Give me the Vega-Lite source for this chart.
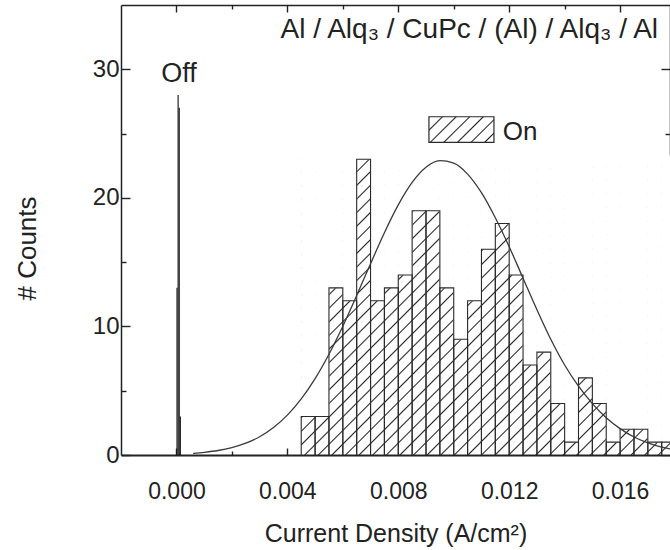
{
  "$schema": "https://vega.github.io/schema/vega-lite/v6.json",
  "width": 549,
  "height": 450,
  "autosize": {"type": "none"},
  "padding": {"left": 121, "top": 5, "right": 0, "bottom": 95},
  "background": "white",
  "config": {
    "view": {"stroke": null},
    "font": "Liberation Sans",
    "axis": {"grid": false, "zindex": 2, "labelFont": "Liberation Sans", "titleFont": "Liberation Sans", "labelColor": "#222", "titleColor": "#222", "titleFontWeight": "normal", "domainColor": "#222", "tickColor": "#222", "tickWidth": 1.4, "domainWidth": 1.5}
  },
  "datasets": {
    "on": [
      {"x0": 0.0045, "x1": 0.005, "count": 3},
      {"x0": 0.005, "x1": 0.0055, "count": 3},
      {"x0": 0.0055, "x1": 0.006, "count": 13},
      {"x0": 0.006, "x1": 0.0065, "count": 12},
      {"x0": 0.0065, "x1": 0.007, "count": 23},
      {"x0": 0.007, "x1": 0.0075, "count": 12},
      {"x0": 0.0075, "x1": 0.008, "count": 13},
      {"x0": 0.008, "x1": 0.0085, "count": 14},
      {"x0": 0.0085, "x1": 0.009, "count": 19},
      {"x0": 0.009, "x1": 0.0095, "count": 19},
      {"x0": 0.0095, "x1": 0.01, "count": 13},
      {"x0": 0.01, "x1": 0.0105, "count": 9},
      {"x0": 0.0105, "x1": 0.011, "count": 12},
      {"x0": 0.011, "x1": 0.0115, "count": 16},
      {"x0": 0.0115, "x1": 0.012, "count": 18},
      {"x0": 0.012, "x1": 0.0125, "count": 14},
      {"x0": 0.0125, "x1": 0.013, "count": 7},
      {"x0": 0.013, "x1": 0.0135, "count": 8},
      {"x0": 0.0135, "x1": 0.014, "count": 4},
      {"x0": 0.014, "x1": 0.0145, "count": 1},
      {"x0": 0.0145, "x1": 0.015, "count": 6},
      {"x0": 0.015, "x1": 0.0155, "count": 4},
      {"x0": 0.0155, "x1": 0.016, "count": 1},
      {"x0": 0.016, "x1": 0.0165, "count": 2},
      {"x0": 0.0165, "x1": 0.017, "count": 2},
      {"x0": 0.017, "x1": 0.0175, "count": 1},
      {"x0": 0.0175, "x1": 0.018, "count": 1}
    ],
    "off": [
      {"x0": 0.0, "x1": 0.00004, "count": 13},
      {"x0": 0.00004, "x1": 0.00008, "count": 28},
      {"x0": 0.00008, "x1": 0.00012, "count": 27},
      {"x0": 0.00012, "x1": 0.00016, "count": 3}
    ],
    "fit": [
      {"x": 0.0006, "y": 0.13}, {"x": 0.001, "y": 0.21}, {"x": 0.0015, "y": 0.35}, {"x": 0.002, "y": 0.58},
      {"x": 0.0025, "y": 0.92}, {"x": 0.003, "y": 1.42}, {"x": 0.0035, "y": 2.14}, {"x": 0.004, "y": 3.1},
      {"x": 0.0045, "y": 4.36}, {"x": 0.005, "y": 5.94}, {"x": 0.0055, "y": 7.84}, {"x": 0.006, "y": 10.02},
      {"x": 0.0065, "y": 12.41}, {"x": 0.007, "y": 14.88}, {"x": 0.0075, "y": 17.29}, {"x": 0.008, "y": 19.45},
      {"x": 0.0085, "y": 21.2}, {"x": 0.009, "y": 22.38}, {"x": 0.0095, "y": 22.89}, {"x": 0.01, "y": 22.7},
      {"x": 0.0105, "y": 21.85}, {"x": 0.011, "y": 20.4}, {"x": 0.0115, "y": 18.45}, {"x": 0.012, "y": 16.2},
      {"x": 0.0125, "y": 13.75}, {"x": 0.013, "y": 11.3}, {"x": 0.0135, "y": 9.0}, {"x": 0.014, "y": 7.0},
      {"x": 0.0145, "y": 5.35}, {"x": 0.015, "y": 4.0}, {"x": 0.0155, "y": 2.9}, {"x": 0.016, "y": 2.05},
      {"x": 0.0165, "y": 1.4}, {"x": 0.017, "y": 0.95}, {"x": 0.0175, "y": 0.62}, {"x": 0.018, "y": 0.4}
    ],
    "one": [{}]
  },
  "resolve": {"axis": {"x": "independent", "y": "independent"}},
  "layer": [
    {
      "data": {"name": "on"},
      "transform": [{"aggregate": [{"op": "min", "field": "x0", "as": "lo"}, {"op": "max", "field": "x1", "as": "hi"}, {"op": "max", "field": "count", "as": "top"}]}],
      "mark": {"type": "rect", "clip": true, "strokeWidth": 0, "fill": {"gradient": "linear", "x1": 0, "y1": 0, "x2": 1.1186, "y2": 0.8837, "stops": [
        {"offset":0,"color":"#222"},{"offset":0.0022,"color":"#fff"},{"offset":0.0178,"color":"#fff"},
        {"offset":0.02,"color":"#222"},{"offset":0.0222,"color":"#fff"},{"offset":0.0378,"color":"#fff"},
        {"offset":0.04,"color":"#222"},{"offset":0.0422,"color":"#fff"},{"offset":0.0578,"color":"#fff"},
        {"offset":0.06,"color":"#222"},{"offset":0.0622,"color":"#fff"},{"offset":0.0778,"color":"#fff"},
        {"offset":0.08,"color":"#222"},{"offset":0.0822,"color":"#fff"},{"offset":0.0978,"color":"#fff"},
        {"offset":0.1,"color":"#222"},{"offset":0.1022,"color":"#fff"},{"offset":0.1178,"color":"#fff"},
        {"offset":0.12,"color":"#222"},{"offset":0.1222,"color":"#fff"},{"offset":0.1378,"color":"#fff"},
        {"offset":0.14,"color":"#222"},{"offset":0.1422,"color":"#fff"},{"offset":0.1578,"color":"#fff"},
        {"offset":0.16,"color":"#222"},{"offset":0.1622,"color":"#fff"},{"offset":0.1778,"color":"#fff"},
        {"offset":0.18,"color":"#222"},{"offset":0.1822,"color":"#fff"},{"offset":0.1978,"color":"#fff"},
        {"offset":0.2,"color":"#222"},{"offset":0.2022,"color":"#fff"},{"offset":0.2178,"color":"#fff"},
        {"offset":0.22,"color":"#222"},{"offset":0.2222,"color":"#fff"},{"offset":0.2378,"color":"#fff"},
        {"offset":0.24,"color":"#222"},{"offset":0.2422,"color":"#fff"},{"offset":0.2578,"color":"#fff"},
        {"offset":0.26,"color":"#222"},{"offset":0.2622,"color":"#fff"},{"offset":0.2778,"color":"#fff"},
        {"offset":0.28,"color":"#222"},{"offset":0.2822,"color":"#fff"},{"offset":0.2978,"color":"#fff"},
        {"offset":0.3,"color":"#222"},{"offset":0.3022,"color":"#fff"},{"offset":0.3178,"color":"#fff"},
        {"offset":0.32,"color":"#222"},{"offset":0.3222,"color":"#fff"},{"offset":0.3378,"color":"#fff"},
        {"offset":0.34,"color":"#222"},{"offset":0.3422,"color":"#fff"},{"offset":0.3578,"color":"#fff"},
        {"offset":0.36,"color":"#222"},{"offset":0.3622,"color":"#fff"},{"offset":0.3778,"color":"#fff"},
        {"offset":0.38,"color":"#222"},{"offset":0.3822,"color":"#fff"},{"offset":0.3978,"color":"#fff"},
        {"offset":0.4,"color":"#222"},{"offset":0.4022,"color":"#fff"},{"offset":0.4178,"color":"#fff"},
        {"offset":0.42,"color":"#222"},{"offset":0.4222,"color":"#fff"},{"offset":0.4378,"color":"#fff"},
        {"offset":0.44,"color":"#222"},{"offset":0.4422,"color":"#fff"},{"offset":0.4578,"color":"#fff"},
        {"offset":0.46,"color":"#222"},{"offset":0.4622,"color":"#fff"},{"offset":0.4778,"color":"#fff"},
        {"offset":0.48,"color":"#222"},{"offset":0.4822,"color":"#fff"},{"offset":0.4978,"color":"#fff"},
        {"offset":0.5,"color":"#222"},{"offset":0.5022,"color":"#fff"},{"offset":0.5178,"color":"#fff"},
        {"offset":0.52,"color":"#222"},{"offset":0.5222,"color":"#fff"},{"offset":0.5378,"color":"#fff"},
        {"offset":0.54,"color":"#222"},{"offset":0.5422,"color":"#fff"},{"offset":0.5578,"color":"#fff"},
        {"offset":0.56,"color":"#222"},{"offset":0.5622,"color":"#fff"},{"offset":0.5778,"color":"#fff"},
        {"offset":0.58,"color":"#222"},{"offset":0.5822,"color":"#fff"},{"offset":0.5978,"color":"#fff"},
        {"offset":0.6,"color":"#222"},{"offset":0.6022,"color":"#fff"},{"offset":0.6178,"color":"#fff"},
        {"offset":0.62,"color":"#222"},{"offset":0.6222,"color":"#fff"},{"offset":0.6378,"color":"#fff"},
        {"offset":0.64,"color":"#222"},{"offset":0.6422,"color":"#fff"},{"offset":0.6578,"color":"#fff"},
        {"offset":0.66,"color":"#222"},{"offset":0.6622,"color":"#fff"},{"offset":0.6778,"color":"#fff"},
        {"offset":0.68,"color":"#222"},{"offset":0.6822,"color":"#fff"},{"offset":0.6978,"color":"#fff"},
        {"offset":0.7,"color":"#222"},{"offset":0.7022,"color":"#fff"},{"offset":0.7178,"color":"#fff"},
        {"offset":0.72,"color":"#222"},{"offset":0.7222,"color":"#fff"},{"offset":0.7378,"color":"#fff"},
        {"offset":0.74,"color":"#222"},{"offset":0.7422,"color":"#fff"},{"offset":0.7578,"color":"#fff"},
        {"offset":0.76,"color":"#222"},{"offset":0.7622,"color":"#fff"},{"offset":0.7778,"color":"#fff"},
        {"offset":0.78,"color":"#222"},{"offset":0.7822,"color":"#fff"},{"offset":0.7978,"color":"#fff"},
        {"offset":0.8,"color":"#222"},{"offset":0.8022,"color":"#fff"},{"offset":0.8178,"color":"#fff"},
        {"offset":0.82,"color":"#222"},{"offset":0.8222,"color":"#fff"},{"offset":0.8378,"color":"#fff"},
        {"offset":0.84,"color":"#222"},{"offset":0.8422,"color":"#fff"},{"offset":0.8578,"color":"#fff"},
        {"offset":0.86,"color":"#222"},{"offset":0.8622,"color":"#fff"},{"offset":0.8778,"color":"#fff"},
        {"offset":0.88,"color":"#222"},{"offset":0.8822,"color":"#fff"},{"offset":0.8978,"color":"#fff"},
        {"offset":0.9,"color":"#222"},{"offset":0.9022,"color":"#fff"},{"offset":0.9178,"color":"#fff"},
        {"offset":0.92,"color":"#222"},{"offset":0.9222,"color":"#fff"},{"offset":0.9378,"color":"#fff"},
        {"offset":0.94,"color":"#222"},{"offset":0.9422,"color":"#fff"},{"offset":0.9578,"color":"#fff"},
        {"offset":0.96,"color":"#222"},{"offset":0.9622,"color":"#fff"},{"offset":0.9778,"color":"#fff"},
        {"offset":0.98,"color":"#222"},{"offset":0.9822,"color":"#fff"},{"offset":0.9978,"color":"#fff"},
        {"offset":1,"color":"#222"}
      ]}},
      "encoding": {
        "x": {"field": "lo", "type": "quantitative", "scale": {"domain": [-0.002, 0.0178], "nice": false, "zero": false},
          "axis": {"orient": "bottom", "values": [0, 0.004, 0.008, 0.012, 0.016], "labels": false, "title": null, "domain": false, "ticks": true, "tickSize": 7, "offset": -7}},
        "x2": {"field": "hi"},
        "y": {"field": "top", "type": "quantitative", "scale": {"domain": [0, 35], "nice": false, "zero": false},
          "axis": {"orient": "left", "values": [0, 10, 20, 30], "labels": false, "title": null, "domain": false, "ticks": true, "tickSize": 9, "offset": -9}},
        "y2": {"datum": 0}
      }
    },
    {
      "data": {"name": "on"},
      "mark": {"type": "rect", "clip": true, "fill": "white", "stroke": "white", "strokeWidth": 0.6},
      "encoding": {
        "x": {"field": "x0", "type": "quantitative", "scale": {"domain": [-0.002, 0.0178], "nice": false, "zero": false},
          "axis": {"orient": "top", "values": [0, 0.004, 0.008, 0.012, 0.016], "labels": false, "title": null, "domain": false, "ticks": true, "tickSize": 7, "offset": -7}},
        "x2": {"field": "x1"},
        "y": {"field": "count", "type": "quantitative", "scale": {"domain": [0, 35], "nice": false, "zero": false},
          "axis": {"orient": "right", "values": [0, 10, 20, 30], "labels": false, "title": null, "domain": false, "ticks": true, "tickSize": 9, "offset": -9}},
        "y2": {"datum": 23.3}
      }
    },
    {
      "data": {"name": "on"},
      "mark": {"type": "rect", "clip": true, "fillOpacity": 0, "stroke": "#2a2a2a", "strokeWidth": 1.1},
      "encoding": {
        "x": {"field": "x0", "type": "quantitative", "scale": {"domain": [-0.002, 0.0178], "nice": false, "zero": false},
          "axis": {"orient": "bottom", "values": [0, 0.004, 0.008, 0.012, 0.016], "format": ".3f", "ticks": false,
            "domainWidth": 2, "labelFontSize": 23, "labelPadding": 25, "labelFlush": false,
            "title": "Current Density (A/cm²)", "titleFontSize": 25, "titleBaseline": "middle", "titleY": 78}},
        "x2": {"field": "x1"},
        "y": {"field": "count", "type": "quantitative", "scale": {"domain": [0, 35], "nice": false, "zero": false},
          "axis": {"orient": "left", "values": [0, 10, 20, 30], "format": "d", "ticks": false,
            "labelFontSize": 24, "labelPadding": 2,
            "title": "# Counts", "titleFontSize": 26, "titleAngle": -90, "titleBaseline": "middle", "titleAlign": "center", "titleX": -94, "titleY": 243}},
        "y2": {"datum": 0}
      }
    },
    {
      "data": {"name": "fit"},
      "mark": {"type": "line", "clip": true, "stroke": "#3a3a3a", "strokeWidth": 1.3, "interpolate": "monotone"},
      "encoding": {
        "x": {"field": "x", "type": "quantitative", "scale": {"domain": [-0.002, 0.0178], "nice": false, "zero": false},
          "axis": {"orient": "top", "values": [0], "labels": false, "ticks": false, "title": null}},
        "y": {"field": "y", "type": "quantitative", "scale": {"domain": [0, 35], "nice": false, "zero": false},
          "axis": {"orient": "right", "values": [0], "labels": false, "ticks": false, "title": null}}
      }
    },
    {
      "data": {"name": "off"},
      "mark": {"type": "rect", "fill": "#111", "strokeWidth": 0},
      "encoding": {
        "x": {"field": "x0", "type": "quantitative", "scale": {"domain": [-0.002, 0.0178], "nice": false, "zero": false},
          "axis": {"orient": "bottom", "values": [0.002, 0.006, 0.01, 0.014], "labels": false, "title": null, "domain": false, "ticks": true, "tickSize": 4, "offset": -4}},
        "x2": {"field": "x1"},
        "y": {"field": "count", "type": "quantitative", "scale": {"domain": [0, 35], "nice": false, "zero": false},
          "axis": {"orient": "left", "values": [5, 15, 25], "labels": false, "title": null, "domain": false, "ticks": true, "tickSize": 5, "offset": -5}},
        "y2": {"datum": 0}
      }
    },
    {
      "data": {"name": "one"},
      "mark": {"type": "rect", "stroke": "#2a2a2a", "strokeWidth": 1.2, "fill": {"gradient": "linear", "x1": 0, "y1": 0, "x2": 9.018, "y2": 3.607, "stops": [
        {"offset":0,"color":"#222"},{"offset":0.0022,"color":"#fff"},{"offset":0.0178,"color":"#fff"},
        {"offset":0.02,"color":"#222"},{"offset":0.0222,"color":"#fff"},{"offset":0.0378,"color":"#fff"},
        {"offset":0.04,"color":"#222"},{"offset":0.0422,"color":"#fff"},{"offset":0.0578,"color":"#fff"},
        {"offset":0.06,"color":"#222"},{"offset":0.0622,"color":"#fff"},{"offset":0.0778,"color":"#fff"},
        {"offset":0.08,"color":"#222"},{"offset":0.0822,"color":"#fff"},{"offset":0.0978,"color":"#fff"},
        {"offset":0.1,"color":"#222"},{"offset":0.1022,"color":"#fff"},{"offset":0.1178,"color":"#fff"},
        {"offset":0.12,"color":"#222"},{"offset":0.1222,"color":"#fff"},{"offset":0.1378,"color":"#fff"}
      ]}},
      "encoding": {
        "x": {"datum": 0.009106, "type": "quantitative", "scale": {"domain": [-0.002, 0.0178], "nice": false, "zero": false},
          "axis": {"orient": "top", "values": [0.002, 0.006, 0.01, 0.014], "labels": false, "title": null, "domain": false, "ticks": true, "tickSize": 4, "offset": -4}},
        "x2": {"datum": 0.011451},
        "y": {"datum": 26.31, "type": "quantitative", "scale": {"domain": [0, 35], "nice": false, "zero": false},
          "axis": {"orient": "right", "values": [5, 15, 25], "labels": false, "title": null, "domain": false, "ticks": true, "tickSize": 5, "offset": -5}},
        "y2": {"datum": 24.31}
      }
    },
    {
      "data": {"name": "one"},
      "mark": {"type": "text", "text": "On", "fontSize": 26, "align": "left", "baseline": "alphabetic", "color": "#222"},
      "encoding": {
        "x": {"datum": 0.011765, "type": "quantitative", "scale": {"domain": [-0.002, 0.0178], "nice": false, "zero": false}, "axis": null},
        "y": {"datum": 24.5, "type": "quantitative", "scale": {"domain": [0, 35], "nice": false, "zero": false}, "axis": null}
      }
    },
    {
      "data": {"name": "one"},
      "mark": {"type": "text", "text": "Off", "fontSize": 27, "align": "center", "baseline": "alphabetic", "color": "#222"},
      "encoding": {
        "x": {"datum": 0.00009, "type": "quantitative", "scale": {"domain": [-0.002, 0.0178], "nice": false, "zero": false}, "axis": null},
        "y": {"datum": 29.03, "type": "quantitative", "scale": {"domain": [0, 35], "nice": false, "zero": false}, "axis": null}
      }
    },
    {
      "data": {"name": "one"},
      "mark": {"type": "text", "text": "Al / Alq₃ / CuPc / (Al) / Alq₃ / Al", "fontSize": 28, "align": "right", "baseline": "alphabetic", "color": "#222"},
      "encoding": {
        "x": {"datum": 0.01737, "type": "quantitative", "scale": {"domain": [-0.002, 0.0178], "nice": false, "zero": false}, "axis": null},
        "y": {"datum": 32.47, "type": "quantitative", "scale": {"domain": [0, 35], "nice": false, "zero": false}, "axis": null}
      }
    }
  ]
}
